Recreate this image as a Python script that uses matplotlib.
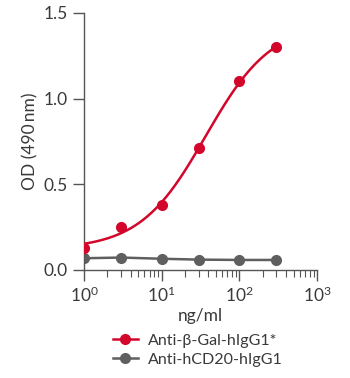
import numpy as np
import matplotlib
matplotlib.use("Agg")
import matplotlib.pyplot as plt
from matplotlib.ticker import LogLocator, NullFormatter

# ── data ───────────────────────────────────────────────────────────────────────
conc = [1, 3, 10, 30, 100, 300]
od_gal = [0.13, 0.25, 0.38, 0.71, 1.10, 1.30]
od_cd20 = [0.068, 0.072, 0.065, 0.060, 0.058, 0.058]
labels = ["Anti-\u03b2-Gal-hIgG1*", "Anti-hCD20-hIgG1"]

RED = "#d2072b"
GREY = "#5f5f5f"
TXT = "#3a3a3a"

plt.rcParams["font.family"] = ["Lato", "DejaVu Sans"]
plt.rcParams["mathtext.fontset"] = "custom"
plt.rcParams["mathtext.rm"] = "Lato"
plt.rcParams["text.color"] = TXT
plt.rcParams["axes.labelcolor"] = TXT


def logistic(x, p):
    bot, top, ec50, hill = p
    return bot + (top - bot) / (1 + (ec50 / x) ** hill)


def fit_4pl(x, y, p0, iters=200):
    """Small Gauss-Newton fit of a 4-parameter logistic."""
    x = np.asarray(x, float)
    y = np.asarray(y, float)
    p = np.array(p0, float)
    for _ in range(iters):
        r = y - logistic(x, p)
        J = np.empty((len(x), len(p)))
        for k in range(len(p)):
            dp = np.zeros_like(p)
            dp[k] = 1e-6 * max(abs(p[k]), 1e-3)
            J[:, k] = (logistic(x, p + dp) - logistic(x, p)) / dp[k]
        step, *_ = np.linalg.lstsq(J, r, rcond=None)
        p = p + 0.5 * step
        p[2] = max(p[2], 1e-3)
    return p


params = fit_4pl(conc, od_gal, [0.12, 1.45, 40, 1.1])
xs = np.logspace(0, np.log10(conc[-1]), 200)

fig = plt.figure(figsize=(3.5, 3.78), dpi=100)
ax = fig.add_axes([0.24, 0.286, 0.666, 0.68])

ax.plot(xs, logistic(xs, params), color=RED, lw=1.8, zorder=3)
ax.plot(conc, od_gal, "o", color=RED, ms=7, zorder=4)
ax.plot(conc, od_cd20, "-o", color=GREY, lw=1.8, ms=7, zorder=2)

ax.set_xscale("log")
ax.set_xlim(1, 1000)
ax.set_ylim(0, 1.5)
ax.set_yticks([0, 0.5, 1.0, 1.5])
ax.set_yticklabels(["0.0", "0.5", "1.0", "1.5"])
ax.xaxis.set_major_locator(LogLocator(base=10, numticks=5))
ax.xaxis.set_minor_locator(LogLocator(base=10, subs=np.arange(2, 10), numticks=12))
ax.xaxis.set_minor_formatter(NullFormatter())

for s in ["top", "right"]:
    ax.spines[s].set_visible(False)
for s in ["left", "bottom"]:
    ax.spines[s].set_color("#555555")
    ax.spines[s].set_linewidth(1.0)

ax.tick_params(axis="both", which="major", length=8, width=1.0, color="#555555",
               labelsize=12.5, labelcolor=TXT)
ax.tick_params(axis="x", which="minor", length=5, width=0.8, color="#555555")
ax.set_xlabel("ng/ml", fontsize=12.5, labelpad=2)
ax.set_ylabel("OD (490\u2009nm)", fontsize=12.5, labelpad=4)

handles = [
    plt.Line2D([], [], color=RED, marker="o", lw=1.8, ms=7),
    plt.Line2D([], [], color=GREY, marker="o", lw=1.8, ms=7),
]
fig.legend(handles, labels, loc="lower left", bbox_to_anchor=(0.29, 0.0),
           frameon=False, fontsize=11.5, handlelength=1.6, handletextpad=0.6,
           labelspacing=0.3, borderaxespad=0.3)

fig.savefig("out.png", dpi=100)
